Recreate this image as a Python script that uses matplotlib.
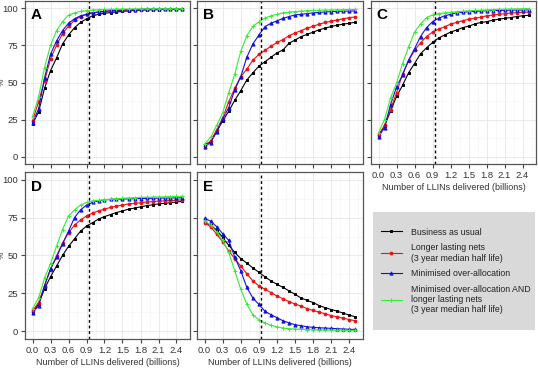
import numpy as np
import matplotlib.pyplot as plt
from matplotlib.ticker import MultipleLocator

# --- DADOS ---
x = [round(0.1 * i, 1) for i in range(26)]
dashed_x = 0.94

# Painel A
A_bau = [22, 30, 46, 58, 66.5, 76, 82, 87, 90.5, 93, 95, 96, 96.7, 97.2, 97.6, 98, 98.3, 98.6, 98.8, 99, 99.1, 99.2, 99.3, 99.4, 99.5, 99.5]
A_lln = [24, 37, 51, 66, 75, 83, 88, 92, 94.5, 96, 97, 97.6, 98, 98.3, 98.6, 98.8, 99, 99.1, 99.2, 99.3, 99.4, 99.5, 99.5, 99.6, 99.6, 99.6]
A_moa = [23, 32, 53, 69, 78, 85, 90, 93, 95, 96, 97, 97.6, 98, 98.4, 98.7, 98.9, 99.1, 99.2, 99.3, 99.4, 99.5, 99.5, 99.6, 99.6, 99.6, 99.7]
A_both = [27, 40, 60, 75, 85, 91, 95.5, 97, 98, 98.5, 99, 99.2, 99.3, 99.4, 99.5, 99.6, 99.6, 99.7, 99.7, 99.7, 99.8, 99.8, 99.8, 99.8, 99.8, 99.8]

# Painel B
B_bau = [8, 10, 17, 24, 30.6, 38, 44.5, 51.7, 56.5, 61, 64, 67, 70, 72, 76.5, 78.7, 81, 82.5, 84, 85.6, 86.7, 87.8, 88.7, 89.4, 90, 90.7]
B_lln = [7, 10.6, 18, 26, 37, 46, 54, 59, 65, 69, 71.6, 74.5, 77, 79, 81.6, 83.4, 85, 86.7, 88, 89.4, 90.5, 91.4, 92.2, 93, 93.8, 94.2]
B_moa = [6.6, 9.5, 16.6, 25.5, 33, 45, 54, 67, 76, 82, 87.6, 90, 91.6, 93.3, 94.5, 95.6, 96, 96.5, 97, 97.3, 97.6, 97.8, 98, 98.1, 98.2, 98.3]
B_both = [8.4, 13, 21, 29.5, 43, 55.6, 71, 81.6, 87.8, 91, 93.5, 95, 96, 97, 97.5, 97.9, 98.2, 98.5, 98.7, 98.8, 98.9, 99, 99.1, 99.2, 99.3, 99.3]

# Painel C
C_bau = [14, 20.6, 30.6, 40.6, 48, 56.5, 62.7, 69.4, 73.4, 77, 80, 82, 84, 85.4, 87, 88, 89.4, 90.5, 91, 92, 92.7, 93.3, 93.8, 94.5, 95, 95.3]
C_lln = [14.4, 21, 31.7, 43, 55.6, 64.5, 71.6, 76.7, 81, 84, 86, 87.6, 89.4, 90.5, 91.6, 92.7, 93.3, 94, 95, 95.5, 96, 96.4, 96.8, 97.1, 97.3, 97.5]
C_moa = [13.5, 19.5, 35, 47, 55, 65, 72.7, 81, 87, 91, 93.3, 95, 96, 97, 97.4, 97.7, 98, 98.2, 98.4, 98.5, 98.6, 98.7, 98.8, 98.9, 98.9, 99]
C_both = [16, 25, 39.5, 49.4, 62.7, 73.8, 84, 89.4, 93.8, 95.6, 96.5, 97, 97.4, 97.8, 98.1, 98.4, 98.6, 98.8, 99, 99.2, 99.4, 99.5, 99.6, 99.7, 99.8, 99.9]

# Painel D
D_bau = [12.3, 18, 28, 36, 43, 50, 56, 61, 66, 69.4, 71.6, 74, 75.6, 77, 78.3, 79.4, 80.5, 81.2, 82, 82.8, 83.4, 84, 84.3, 84.8, 85.2, 85.7]
D_lln = [13.4, 19, 30, 40.7, 49.7, 58, 65, 70, 73.4, 76, 78, 79.4, 80.5, 81.7, 82.5, 83.2, 84, 84.3, 84.8, 85.2, 85.5, 85.8, 86, 86.2, 86.4, 86.6]
D_moa = [12.3, 16.8, 30, 41.4, 48.8, 57.7, 66, 75, 80, 83.2, 85, 86, 86.6, 86.9, 87.1, 87.2, 87.3, 87.4, 87.5, 87.6, 87.7, 87.8, 87.8, 87.9, 87.9, 88]
D_both = [15, 22, 35, 44.7, 56, 67, 76, 80, 83.2, 85, 86, 86.4, 86.8, 87.1, 87.4, 87.7, 87.9, 88.1, 88.3, 88.4, 88.5, 88.6, 88.7, 88.8, 88.9, 89]

# Painel E
E_bau = [71.8, 70, 66.7, 62, 56.7, 52, 48, 45, 41.8, 39, 36, 33.3, 31, 29, 26.7, 24.4, 22, 20.4, 19, 17, 15.6, 14.4, 13.3, 12, 10.7, 9.6]
E_lln = [71.5, 69, 64, 59, 53, 48, 43, 38, 33.3, 30, 27.8, 25.6, 23.3, 21.5, 19.6, 18, 16.7, 15, 13.8, 12.7, 11.6, 10.4, 9.6, 8.7, 7.8, 7]
E_moa = [74.4, 72.7, 69, 64.4, 60, 49, 40, 29, 22, 17.8, 13.3, 11, 9, 7, 5.6, 4.4, 3.8, 3, 2.7, 2.4, 2.2, 2, 1.8, 1.6, 1.4, 1.3]
E_both = [73, 70, 65.6, 60, 52, 40, 27.8, 18, 11, 7.8, 5.6, 4, 3, 2.2, 1.8, 1.6, 1.4, 1.2, 1.1, 1, 0.9, 0.9, 0.8, 0.8, 0.7, 0.7]

panels = {
    "A": [A_bau, A_lln, A_moa, A_both],
    "B": [B_bau, B_lln, B_moa, B_both],
    "C": [C_bau, C_lln, C_moa, C_both],
    "D": [D_bau, D_lln, D_moa, D_both],
    "E": [E_bau, E_lln, E_moa, E_both],
}

labels = [
    "Business as usual",
    "Longer lasting nets\n(3 year median half life)",
    "Minimised over-allocation",
    "Minimised over-allocation AND\nlonger lasting nets\n(3 year median half life)",
]
colors = ["black", "#ee1111", "#1111dd", "#33ee33"]
markers = ["s", "o", "^", "+"]
msizes = [1.9, 2.0, 2.3, 2.4]

xticks = [0.0, 0.3, 0.6, 0.9, 1.2, 1.5, 1.8, 2.1, 2.4]
yticks = [0, 25, 50, 75, 100]
xlabel = "Number of LLINs delivered (billions)"

# --- FIGURA ---
W, H = 538, 370
fig = plt.figure(figsize=(W / 100, H / 100), dpi=100)
plt.rcParams["font.family"] = ["Liberation Sans", "DejaVu Sans"]

def px_axes(x0, y0, x1, y1):
    return fig.add_axes([x0 / W, 1 - y1 / H, (x1 - x0) / W, (y1 - y0) / H])

boxes = {
    "A": (25, 1, 190, 164),
    "B": (197, 1, 363, 164),
    "C": (371, 1, 536, 164),
    "D": (25, 172, 190, 339),
    "E": (197, 172, 363, 339),
}

lines = []
for name, (x0, y0, x1, y1) in boxes.items():
    ax = px_axes(x0, y0, x1, y1)
    ax.set_xlim(-0.125, 2.625)
    ax.set_ylim(-5, 105)
    ax.xaxis.set_major_locator(MultipleLocator(0.3))
    ax.xaxis.set_minor_locator(MultipleLocator(0.15))
    ax.yaxis.set_major_locator(MultipleLocator(25))
    ax.yaxis.set_minor_locator(MultipleLocator(12.5))
    ax.grid(which="major", color="#e6e6e6", lw=0.6)
    ax.grid(which="minor", color="#f3f3f3", lw=0.4)
    ax.set_axisbelow(True)
    for s in ax.spines.values():
        s.set_color("#555555")
        s.set_linewidth(0.9)
    ax.tick_params(which="major", length=3, width=0.8, color="#444444",
                   labelsize=6.8, labelcolor="#333333", pad=2)
    ax.tick_params(which="minor", length=0)
    ax.set_xticks(xticks)
    ax.set_xticklabels([f"{v:.1f}" for v in xticks])
    ax.set_yticks(yticks)
    if name in ("A", "B"):
        ax.tick_params(labelbottom=False)
    else:
        ax.set_xlabel(xlabel, fontsize=6.5, color="#333333", labelpad=2.5)
    if name in ("A", "D"):
        ax.set_ylabel("%", fontsize=6, color="#333333")
        ax.yaxis.set_label_coords(-0.115, 0.5)
    else:
        ax.tick_params(labelleft=False)

    for ys, c, m, ms, lab in zip(panels[name], colors, markers, msizes, labels):
        ln, = ax.plot(x, ys, color=c, lw=0.8, marker=m, ms=ms, mew=0.7, label=lab)
        if name == "A":
            lines.append(ln)
    ax.axvline(dashed_x, color="black", ls=(0, (2, 2)), lw=1.0)
    ax.text(0.035, 0.955, name, transform=ax.transAxes, fontsize=11,
            fontweight="bold", va="top", ha="left")

# Legenda
lax = px_axes(373, 212, 535, 330)
lax.set_facecolor("#d9d9d9")
lax.set_xticks([])
lax.set_yticks([])
for s in lax.spines.values():
    s.set_visible(False)
lax.legend(handles=lines, loc="center left", frameon=False, fontsize=6.3,
           handlelength=2.4, handletextpad=1.0, labelspacing=0.75,
           borderaxespad=0.5, labelcolor="#222222")

fig.savefig("out.png", dpi=100)
